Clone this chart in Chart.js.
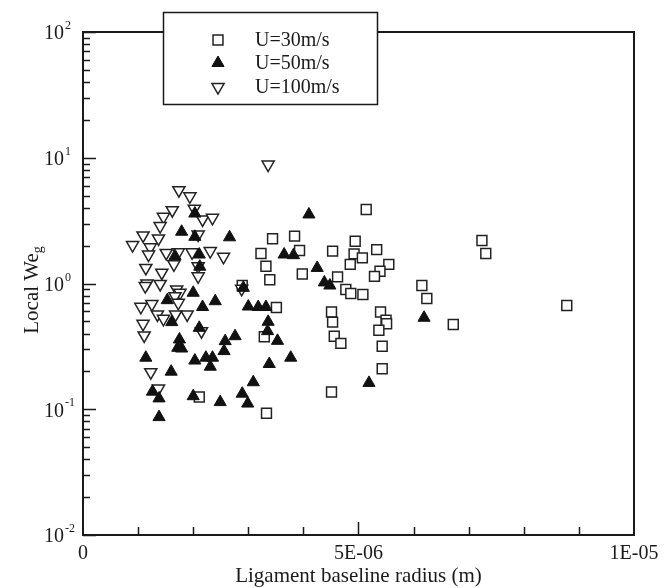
<!DOCTYPE html>
<html>
<head>
<meta charset="utf-8">
<script src="https://cdn.jsdelivr.net/npm/chart.js@4.4.1/dist/chart.umd.min.js"></script>
<style>
  html, body { margin: 0; padding: 0; background: #fff; }
  #wrap { width: 670px; height: 588px; }
</style>
</head>
<body>
<div id="wrap"><canvas id="chart" width="670" height="588"></canvas></div>
<script>
// radius values in units of 1e-6 m, Local We_g values
const x30 = [3.44, 3.23, 3.32, 3.39, 2.89, 3.51, 3.29, 2.11, 3.33, 5.14, 3.84, 4.94, 5.33, 3.93, 4.53, 4.92, 5.07, 4.85, 5.55, 5.39, 5.29, 3.98, 4.62, 4.77, 4.86, 5.08, 6.15, 6.24, 4.51, 5.40, 4.53, 5.50, 5.51, 5.37, 6.72, 4.56, 4.68, 5.43, 5.43, 4.51, 7.24, 7.31, 8.78];
const y30 = [2.27, 1.73, 1.37, 1.07, 0.964, 0.645, 0.377, 0.125, 0.093, 3.88, 2.38, 2.17, 1.86, 1.83, 1.81, 1.72, 1.60, 1.42, 1.42, 1.25, 1.14, 1.19, 1.13, 0.896, 0.833, 0.818, 0.964, 0.760, 0.594, 0.594, 0.493, 0.511, 0.478, 0.425, 0.472, 0.381, 0.334, 0.317, 0.210, 0.137, 2.20, 1.73, 0.668];

const x50 = [2.03, 1.79, 2.03, 2.66, 1.67, 2.11, 2.12, 2.00, 1.53, 2.40, 2.17, 3.00, 3.18, 3.32, 2.91, 1.61, 2.11, 3.36, 3.35, 3.53, 1.75, 1.72, 1.79, 2.58, 2.76, 2.56, 1.14, 2.03, 2.23, 2.35, 2.31, 3.38, 1.60, 3.09, 1.26, 1.38, 2.00, 2.89, 2.49, 2.99, 1.38, 4.10, 3.65, 3.82, 4.25, 4.38, 4.48, 3.77, 6.19, 5.19];
const y50 = [3.60, 2.58, 2.35, 2.33, 1.65, 1.70, 1.36, 0.844, 0.737, 0.723, 0.650, 0.656, 0.650, 0.650, 0.924, 0.493, 0.444, 0.496, 0.418, 0.350, 0.359, 0.308, 0.304, 0.348, 0.381, 0.290, 0.257, 0.244, 0.257, 0.257, 0.218, 0.229, 0.199, 0.164, 0.138, 0.122, 0.127, 0.133, 0.114, 0.111, 0.0866, 3.54, 1.70, 1.68, 1.33, 1.02, 0.964, 0.257, 0.534, 0.162];

const x100 = [3.36, 1.74, 1.94, 1.62, 2.02, 1.46, 2.17, 2.35, 1.40, 1.09, 1.37, 2.09, 0.90, 1.22, 1.19, 1.51, 1.73, 1.98, 2.31, 2.55, 1.65, 1.14, 1.43, 2.09, 2.09, 1.16, 1.13, 1.40, 1.70, 1.76, 1.67, 1.25, 1.73, 2.88, 1.05, 1.35, 1.46, 1.68, 1.89, 1.09, 1.11, 2.15, 1.23, 1.37];
const y100 = [8.83, 5.52, 4.94, 3.83, 3.93, 3.39, 3.23, 3.33, 2.86, 2.41, 2.28, 2.45, 2.02, 1.94, 1.70, 1.75, 1.77, 1.77, 1.81, 1.63, 1.42, 1.33, 1.22, 1.37, 1.14, 1.00, 0.955, 0.991, 0.896, 0.844, 0.793, 0.687, 0.702, 0.908, 0.653, 0.567, 0.524, 0.567, 0.567, 0.478, 0.386, 0.418, 0.197, 0.146];

const seriesLabels = ['U=30m/s', 'U=50m/s', 'U=100m/s'];
const xTickValues = [0, 5e-6, 1e-5];
const xTickLabels = ['0', '5E-06', '1E-05'];
const xMinorStep = 1e-6;
const yDecades = [-2, -1, 0, 1, 2];

const FONT = '"Liberation Serif", "Times New Roman", serif';
const INK = '#1a1a1a';

function pairs(xs, ys) {
    return xs.map((x, i) => ({ x: x * 1e-6, y: ys[i] }));
}

// frame, ticks, tick labels, axis titles and legend, in the style of the original plot
const framePlugin = {
    id: 'frame',
    afterDraw(chart) {
        const ctx = chart.ctx;
        const area = chart.chartArea;
        const xs = chart.scales.x;
        const ys = chart.scales.y;
        ctx.save();
        ctx.strokeStyle = INK;
        ctx.fillStyle = INK;

        // y ticks (inside, left side)
        ctx.lineWidth = 1.5;
        ctx.beginPath();
        yDecades.forEach(d => {
            const py = Math.round(ys.getPixelForValue(Math.pow(10, d))) + 0.5;
            ctx.moveTo(area.left, py);
            ctx.lineTo(area.left + 13, py);
            if (d < yDecades[yDecades.length - 1]) {
                for (let m = 2; m <= 9; m++) {
                    const pm = Math.round(ys.getPixelForValue(m * Math.pow(10, d))) + 0.5;
                    ctx.moveTo(area.left, pm);
                    ctx.lineTo(area.left + 7, pm);
                }
            }
        });
        // x ticks (inside, bottom)
        for (let v = xMinorStep; v < 1e-5 - 1e-9; v += xMinorStep) {
            const px = Math.round(xs.getPixelForValue(v)) + 0.5;
            const len = Math.abs(v - 5e-6) < 1e-9 ? 13 : 8;
            ctx.moveTo(px, area.bottom);
            ctx.lineTo(px, area.bottom - len);
        }
        ctx.stroke();

        // frame
        ctx.lineWidth = 2;
        ctx.strokeRect(area.left, area.top, area.right - area.left, area.bottom - area.top);

        // y tick labels 10^n
        ctx.textBaseline = 'middle';
        yDecades.forEach(d => {
            const py = ys.getPixelForValue(Math.pow(10, d));
            ctx.font = '20px ' + FONT;
            ctx.textAlign = 'right';
            ctx.fillText('10', area.left - 19, py + 2);
            ctx.font = '12px ' + FONT;
            ctx.textAlign = 'left';
            ctx.fillText(String(d), area.left - 18, py - 6);
        });

        // x tick labels
        ctx.font = '20px ' + FONT;
        ctx.textAlign = 'center';
        ctx.textBaseline = 'alphabetic';
        xTickValues.forEach((v, i) => {
            ctx.fillText(xTickLabels[i], xs.getPixelForValue(v), area.bottom + 24);
        });

        // axis titles
        ctx.font = '21px ' + FONT;
        ctx.fillText('Ligament baseline radius (m)', (area.left + area.right) / 2, 582);

        ctx.save();
        ctx.translate(38, 290);
        ctx.rotate(-Math.PI / 2);
        ctx.font = '21px ' + FONT;
        const main = 'Local We';
        const wMain = ctx.measureText(main).width;
        ctx.font = '14px ' + FONT;
        const wSub = ctx.measureText('g').width;
        const start = -(wMain + wSub) / 2;
        ctx.textAlign = 'left';
        ctx.font = '21px ' + FONT;
        ctx.fillText(main, start, 0);
        ctx.font = '14px ' + FONT;
        ctx.fillText('g', start + wMain, 4);
        ctx.restore();

        // legend box
        const lx = 163, ly = 12, lw = 214, lh = 92;
        ctx.fillStyle = '#fff';
        ctx.fillRect(lx, ly, lw, lh);
        ctx.lineWidth = 1.5;
        ctx.strokeStyle = INK;
        ctx.strokeRect(lx + 0.5, ly + 0.5, lw, lh);
        const rows = [40, 63, 87];
        chart.data.datasets.forEach((ds, i) => {
            const cy = rows[i];
            const cx = 218;
            ctx.save();
            ctx.fillStyle = ds.backgroundColor;
            ctx.strokeStyle = ds.borderColor;
            ctx.lineWidth = ds.borderWidth;
            Chart.helpers.drawPoint(ctx, {
                pointStyle: ds.pointStyle,
                radius: ds.pointRadius,
                rotation: ds.rotation || 0,
                borderWidth: ds.borderWidth
            }, cx, cy);
            ctx.restore();
            ctx.fillStyle = INK;
            ctx.font = '20px ' + FONT;
            ctx.textAlign = 'left';
            ctx.textBaseline = 'middle';
            ctx.fillText(seriesLabels[i], 255, cy + 1);
        });
        ctx.restore();
    }
};

new Chart(document.getElementById('chart'), {
    type: 'scatter',
    data: {
        datasets: [
            {
                label: seriesLabels[0],
                data: pairs(x30, y30),
                pointStyle: 'rect',
                pointRadius: 7,
                backgroundColor: '#fff',
                borderColor: '#222',
                borderWidth: 1.5,
                order: 2
            },
            {
                label: seriesLabels[1],
                data: pairs(x50, y50),
                pointStyle: 'triangle',
                pointRadius: 7,
                backgroundColor: '#111',
                borderColor: '#111',
                borderWidth: 1,
                order: 0
            },
            {
                label: seriesLabels[2],
                data: pairs(x100, y100),
                pointStyle: 'triangle',
                rotation: 180,
                pointRadius: 7,
                backgroundColor: '#fff',
                borderColor: '#222',
                borderWidth: 1.5,
                order: 1
            }
        ]
    },
    options: {
        responsive: false,
        animation: false,
        devicePixelRatio: 1,
        layout: { padding: { left: 83, right: 36, top: 32, bottom: 53 } },
        scales: {
            x: { type: 'linear', min: 0, max: 1e-5, display: false },
            y: { type: 'logarithmic', min: 0.01, max: 100, display: false }
        },
        plugins: {
            legend: { display: false },
            tooltip: { enabled: false }
        }
    },
    plugins: [framePlugin]
});
</script>
</body>
</html>
